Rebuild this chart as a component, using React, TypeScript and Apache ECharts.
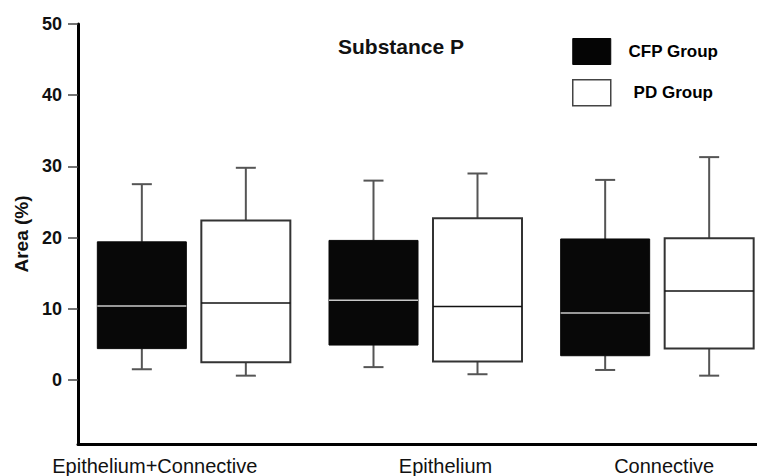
import React, { useEffect, useRef } from 'react';
import * as echarts from 'echarts';

const categories = ['Epithelium+Connective', 'Epithelium', 'Connective'];
const seriesNames = ['CFP Group', 'PD Group'];
const cfpMin = [1.5, 1.8, 1.4];
const cfpQ1 = [4.4, 4.9, 3.4];
const cfpMedian = [10.4, 11.2, 9.4];
const cfpQ3 = [19.4, 19.6, 19.8];
const cfpMax = [27.5, 28.0, 28.1];
const pdMin = [0.6, 0.8, 0.6];
const pdQ1 = [2.5, 2.6, 4.4];
const pdMedian = [10.8, 10.3, 12.5];
const pdQ3 = [22.4, 22.7, 19.9];
const pdMax = [29.8, 29.0, 31.3];
const yTicks = [0, 10, 20, 30, 40, 50];

const FONT = '"Liberation Sans", Arial, sans-serif';

// per-label horizontal nudges (style only): [left padding, right padding]
const labelPads: number[][] = [[0, 78], [40, 0], [14, 0]];

function buildRows(mn: number[], q1: number[], md: number[], q3: number[], mx: number[]) {
  return categories.map((_, i) => [i, mn[i], q1[i], md[i], q3[i], mx[i]]);
}

type BoxStyle = {
  offset: number;
  boxWidth: number;
  capWidth: number;
  fill: string;
  stroke: string;
  strokeWidth: number;
  median: string;
  whisker: string;
};

function makeRender(s: BoxStyle) {
  return (params: any, api: any) => {
    const cat = api.value(0);
    const cx = api.coord([cat, 0])[0] + s.offset;
    const py = (i: number) => api.coord([cat, api.value(i)])[1];
    const yMin = py(1), yQ1 = py(2), yMed = py(3), yQ3 = py(4), yMax = py(5);
    const hw = s.boxWidth / 2;
    const hc = s.capWidth / 2;
    const wStyle = { stroke: s.whisker, lineWidth: 2 };
    return {
      type: 'group',
      children: [
        { type: 'line', shape: { x1: cx, y1: yMax, x2: cx, y2: yQ3 }, style: wStyle },
        { type: 'line', shape: { x1: cx - hc, y1: yMax, x2: cx + hc, y2: yMax }, style: wStyle },
        { type: 'line', shape: { x1: cx, y1: yQ1, x2: cx, y2: yMin }, style: wStyle },
        { type: 'line', shape: { x1: cx - hc, y1: yMin, x2: cx + hc, y2: yMin }, style: wStyle },
        {
          type: 'rect',
          shape: { x: cx - hw, y: yQ3, width: s.boxWidth, height: yQ1 - yQ3 },
          style: { fill: s.fill, stroke: s.stroke, lineWidth: s.strokeWidth },
        },
        {
          type: 'line',
          shape: { x1: cx - hw, y1: yMed, x2: cx + hw, y2: yMed },
          style: { stroke: s.median, lineWidth: 1.5 },
        },
      ],
    };
  };
}

export default function App() {
  const ref = useRef<HTMLDivElement>(null);
  useEffect(() => {
    document.body.style.margin = '0';
    const chart = echarts.init(ref.current!, null, { renderer: 'svg' });
    const labelRich: any = {};
    labelPads.forEach((p, i) => {
      labelRich['l' + i] = { fontFamily: FONT, fontSize: 20, color: '#111', padding: [0, p[1], 0, p[0]] };
    });
    const option: any = {
      animation: false,
      backgroundColor: '#fff',
      title: {
        text: 'Substance P',
        left: 333,
        top: 31,
        textStyle: { fontFamily: FONT, fontWeight: 'bold', fontSize: 21, color: '#111' },
      },
      legend: {
        orient: 'vertical',
        left: 572,
        top: 38,
        padding: 0,
        itemWidth: 38,
        itemHeight: 26,
        itemGap: 14,
        selectedMode: false,
        data: [
          { name: seriesNames[0], icon: 'rect', itemStyle: { color: '#050505', borderColor: '#050505', borderWidth: 1 } },
          { name: seriesNames[1], icon: 'rect', itemStyle: { color: '#fff', borderColor: '#444', borderWidth: 1.5 } },
        ],
        formatter: (name: string) => `{t|${name}}`,
        textStyle: {
          fontFamily: FONT,
          fontWeight: 'bold',
          fontSize: 17,
          color: '#000',
          rich: { t: { width: 115, align: 'center', fontFamily: FONT, fontWeight: 'bold', fontSize: 17, color: '#000' } },
        },
      },
      grid: { left: 78, top: 24, bottom: 32, right: -16, outerBoundsMode: 'none' },
      xAxis: {
        type: 'category',
        data: categories,
        axisLine: { onZero: false, lineStyle: { color: '#000', width: 3 } },
        axisTick: { show: false },
        axisLabel: {
          fontFamily: FONT,
          fontSize: 20,
          color: '#111',
          margin: 12,
          interval: 0,
          formatter: (v: string, i: number) => `{l${i}|${v}}`,
          rich: labelRich,
        },
        splitLine: { show: false },
      },
      yAxis: {
        type: 'value',
        min: -9,
        max: 50,
        name: 'Area (%)',
        nameLocation: 'middle',
        nameGap: 42,
        nameTextStyle: { fontFamily: FONT, fontWeight: 'bold', fontSize: 19, color: '#111' },
        axisLine: { show: true, lineStyle: { color: '#000', width: 3 } },
        axisTick: { show: true, length: 10, customValues: yTicks, lineStyle: { color: '#444', width: 1.5 } },
        axisLabel: { customValues: yTicks, fontFamily: FONT, fontWeight: 'bold', fontSize: 18, color: '#111', margin: 16 },
        splitLine: { show: false },
      },
      series: [
        {
          type: 'custom',
          name: seriesNames[0],
          data: buildRows(cfpMin, cfpQ1, cfpMedian, cfpQ3, cfpMax),
          encode: { x: 0, y: [1, 2, 3, 4, 5] },
          itemStyle: { color: '#050505' },
          renderItem: makeRender({
            offset: -52, boxWidth: 89, capWidth: 20, fill: '#080808', stroke: '#080808',
            strokeWidth: 1, median: '#c8c8c8', whisker: '#555',
          }),
        },
        {
          type: 'custom',
          name: seriesNames[1],
          data: buildRows(pdMin, pdQ1, pdMedian, pdQ3, pdMax),
          encode: { x: 0, y: [1, 2, 3, 4, 5] },
          itemStyle: { color: '#fff' },
          renderItem: makeRender({
            offset: 52, boxWidth: 89, capWidth: 20, fill: '#fff', stroke: '#333',
            strokeWidth: 2, median: '#111', whisker: '#555',
          }),
        },
      ],
    };
    chart.setOption(option);
    return () => chart.dispose();
  }, []);
  return <div ref={ref} style={{ width: 757, height: 476 }} />;
}
